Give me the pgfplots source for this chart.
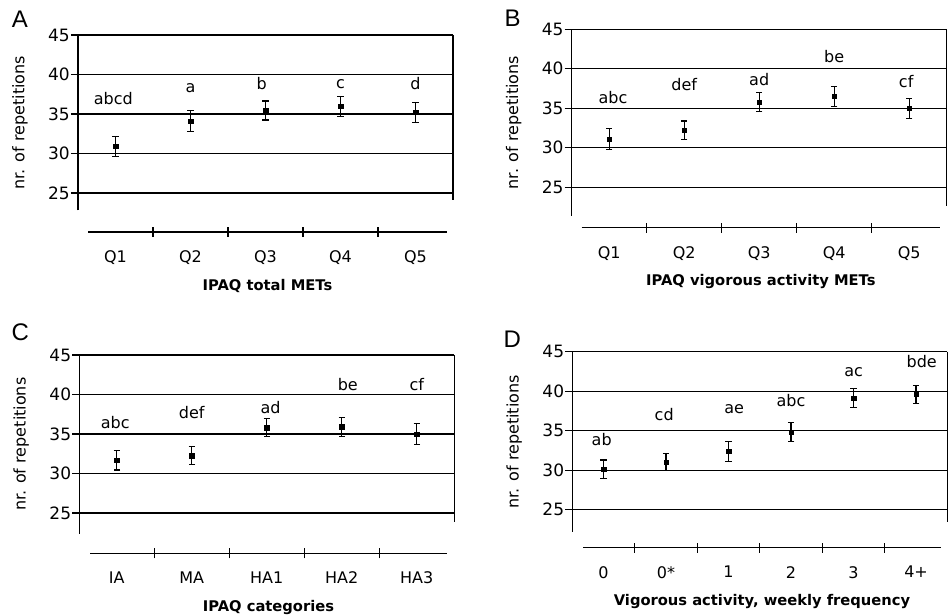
\documentclass[border=0pt]{standalone}
\usepackage{fontspec}
\setmainfont{DejaVu Sans}
\newfontfamily\letterfont{Liberation Sans}
\usepackage{pgfplots}
\usepackage{pgfplotstable}
\pgfplotsset{compat=1.18}
\newcommand\fsz{\fontsize{16}{19}\selectfont}
\newcommand\fszy{\fontsize{17}{20}\selectfont}
\newcommand\fszb{\fontsize{14.7}{17}\selectfont\bfseries}

\pgfplotstableread{
x y e
0 30.9 1.25
1 34.1 1.3
2 35.45 1.2
3 35.95 1.25
4 35.2 1.3
}\dataA
\pgfplotstableread{
x y e
0 31.1 1.35
1 32.2 1.2
2 35.8 1.2
3 36.5 1.25
4 35.0 1.25
}\dataB
\pgfplotstableread{
x y e
0 31.7 1.25
1 32.25 1.15
2 35.8 1.15
3 35.9 1.2
4 35.0 1.3
}\dataC
\pgfplotstableread{
x y e
0 30.1 1.2
1 31.05 1.05
2 32.4 1.25
3 34.8 1.2
4 39.15 1.2
5 39.6 1.15
}\dataD

\tikzset{
 lett/.style={font=\fsz, anchor=center, inner sep=0pt},
 pan/.style={font=\letterfont\fontsize{24}{24}\selectfont, anchor=center, inner sep=0pt}
}
\pgfplotsset{
 mainax/.style={scale only axis, width=375pt, ymax=45, axis x line=none, axis y line*=left,
   ytick={25,30,35,40,45}, ymajorgrids, grid style={black, line width=1.3pt},
   tick align=outside, major tick length=7pt, tick style={black, line width=1.3pt},
   y axis line style={black, line width=1.3pt}, clip=false,
   /pgf/number format/assume math mode=true,
   yticklabel style={font=\fszy, inner sep=1pt},
   ylabel={nr. of repetitions},
   every axis y label/.style={at={(rel axis cs:0,0.5)}, xshift=-58pt, rotate=90, anchor=center, font=\fsz}},
 xax/.style={scale only axis, height=10pt, ymin=0, ymax=1, axis y line=none, axis x line*=bottom,
   x axis line style={black, line width=1.3pt}, tick align=center, major tick length=10pt,
   tick style={black, line width=1.2pt}, xticklabels={},
   extra x tick style={major tick length=0pt},
   xticklabel style={font=\fsz, yshift=-15pt},
   every axis x label/.style={at={(rel axis cs:0.5,0)}, anchor=center, yshift=-54pt, font=\fszb}},
 pts/.style={only marks, mark=square*, mark size=2.2pt, black, mark options={fill=black, draw=black},
   error bars/.cd, y dir=both, y explicit,
   error bar style={line width=1.2pt, black},
   error mark options={rotate=90, mark size=3.2pt, line width=1.2pt, black}}
}

\begin{document}
\begin{tikzpicture}
\path[use as bounding box] (0,0) rectangle (951pt,615pt);

% ---------------- A
\begin{axis}[mainax, at={(78pt,580pt)}, anchor=north west, height=175.38pt, ymin=22.8, xmin=-0.5, xmax=4.5]
\addplot[pts] table[x=x, y=y, y error=e] {\dataA};
\draw[black, line width=1.3pt] (axis cs:4.5,45) -- (axis cs:4.5,24.1);
\node[lett] at (axis cs:-0.03,36.9) {abcd};
\node[lett] at (axis cs:1,38.3) {a};
\node[lett] at (axis cs:1.95,38.8) {b};
\node[lett] at (axis cs:3,38.8) {c};
\node[lett] at (axis cs:4,38.8) {d};
\node[pan] at (rel axis cs:0,1) [xshift=-58pt, yshift=16pt] {A};
\end{axis}
\begin{axis}[xax, at={(88pt,383pt)}, anchor=south west, width=359pt, xmin=-0.367, xmax=4.42,
  xtick={0.5,1.5,2.5,3.5}, extra x ticks={0,1,2,3,4}, extra x tick labels={Q1,Q2,Q3,Q4,Q5},
  xlabel={IPAQ total METs}]
\addplot[draw=none] coordinates {(0,0.5)};
\end{axis}

% ---------------- B
\begin{axis}[mainax, at={(571.7pt,585.7pt)}, anchor=north west, height=186.44pt, ymin=21.4, xmin=-0.5, xmax=4.5]
\addplot[pts] table[x=x, y=y, y error=e] {\dataB};
\draw[black, line width=1.3pt] (axis cs:4.5,45) -- (axis cs:4.5,22.6);
\node[lett] at (axis cs:0.05,36.4) {abc};
\node[lett] at (axis cs:1,38.0) {def};
\node[lett] at (axis cs:2,38.6) {ad};
\node[lett] at (axis cs:3,41.5) {be};
\node[lett] at (axis cs:3.96,38.45) {cf};
\node[pan] at (rel axis cs:0,1) [xshift=-59pt, yshift=11pt] {B};
\end{axis}
\begin{axis}[xax, at={(581.7pt,387.3pt)}, anchor=south west, width=358.3pt, xmin=-0.367, xmax=4.41,
  xtick={0.5,1.5,2.5,3.5}, extra x ticks={0,1,2,3,4}, extra x tick labels={Q1,Q2,Q3,Q4,Q5},
  xlabel={IPAQ vigorous activity METs}]
\addplot[draw=none] coordinates {(0,0.5)};
\end{axis}

% ---------------- C
\begin{axis}[mainax, at={(79.3pt,260pt)}, anchor=north west, height=178.54pt, ymin=22.4, xmin=-0.5, xmax=4.5]
\addplot[pts] table[x=x, y=y, y error=e] {\dataC};
\draw[black, line width=1.3pt] (axis cs:4.5,45) -- (axis cs:4.5,23.8);
\node[lett] at (axis cs:-0.02,36.5) {abc};
\node[lett] at (axis cs:1,37.7) {def};
\node[lett] at (axis cs:2.05,38.4) {ad};
\node[lett] at (axis cs:3.08,41.2) {be};
\node[lett] at (axis cs:4,41.2) {cf};
\node[pan] at (rel axis cs:0,1) [xshift=-59pt, yshift=22.5pt] {C};
\end{axis}
\begin{axis}[xax, at={(90pt,61.7pt)}, anchor=south west, width=357pt, xmin=-0.357, xmax=4.403,
  xtick={0.5,1.5,2.5,3.5}, extra x ticks={0,1,2,3,4}, extra x tick labels={IA,MA,HA1,HA2,HA3},
  xlabel={IPAQ categories}]
\addplot[draw=none] coordinates {(0,0.5)};
\end{axis}

% ---------------- D
\begin{axis}[mainax, at={(572.3pt,263.3pt)}, anchor=north west, height=180.12pt, ymin=22.2, xmin=-0.5, xmax=5.5]
\addplot[pts] table[x=x, y=y, y error=e] {\dataD};
\draw[black, line width=1.3pt] (axis cs:5.5,45) -- (axis cs:5.5,23.5);
\node[lett] at (axis cs:-0.03,33.9) {ab};
\node[lett] at (axis cs:0.97,37.1) {cd};
\node[lett] at (axis cs:2.09,37.7) {ae};
\node[lett] at (axis cs:3,38.8) {abc};
\node[lett] at (axis cs:4,42.35) {ac};
\node[lett] at (axis cs:5.09,43.7) {bde};
\node[pan] at (rel axis cs:0,1) [xshift=-60pt, yshift=12pt] {D};
\end{axis}
\begin{axis}[xax, at={(583.3pt,67.3pt)}, anchor=south west, width=357.4pt, xmin=-0.324, xmax=5.394,
  xtick={0.5,1.5,2.5,3.5,4.5}, extra x ticks={0,1,2,3,4,5}, extra x tick labels={0,0*,1,2,3,4+},
  xlabel={Vigorous activity, weekly frequency}]
\addplot[draw=none] coordinates {(0,0.5)};
\end{axis}
\end{tikzpicture}
\end{document}
